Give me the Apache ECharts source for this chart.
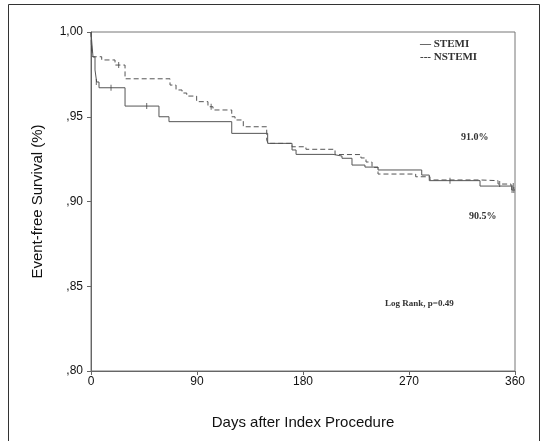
<!DOCTYPE html>
<html>
<head>
<meta charset="utf-8">
<script src="https://cdn.jsdelivr.net/npm/echarts@6/dist/echarts.min.js"></script>
<style>
  html, body { margin: 0; padding: 0; background: #fff; }
  #chart { width: 544px; height: 441px; }
</style>
</head>
<body>
<div id="chart"></div>
<script>
// Kaplan-Meier steps (day, survival %)
const stemiDays = [0, 0.85, 1.7, 3.4, 4.8, 6.8, 28.9, 57.7, 66.2, 119.5, 150.0, 170.7, 174.1, 205.5, 213.1, 221.6, 232.6, 243.7, 280.8, 287.2, 330.3, 357.2, 360];
const stemiSurv = [100, 99.23, 98.53, 97.76, 97.05, 96.71, 95.63, 95.00, 94.71, 94.02, 93.43, 93.04, 92.78, 92.68, 92.55, 92.15, 92.03, 91.86, 91.56, 91.23, 90.91, 90.68, 90.68];

const nstemiDays = [0, 0.4, 1.3, 9.1, 20.4, 28.9, 67.1, 72.2, 77.3, 81.3, 89.7, 99.3, 103.6, 119.5, 122.3, 129.3, 149.2, 150.3, 170.7, 182.5, 207.2, 229.2, 233.5, 238.6, 243.7, 275.7, 287.8, 330.3, 345.6, 356.6, 360];
const nstemiSurv = [100, 99.04, 98.54, 98.35, 98.05, 97.24, 96.87, 96.58, 96.40, 96.22, 95.89, 95.59, 95.40, 95.00, 94.81, 94.41, 93.63, 93.43, 93.23, 93.08, 92.77, 92.57, 92.33, 92.01, 91.62, 91.46, 91.27, 91.23, 91.03, 90.91, 90.91];

// censored observations (tick marks)
const stemiCensorDays = [4.5, 17, 47.3, 304.8, 357.5, 359];
const stemiCensorSurv = [97.05, 96.71, 95.63, 91.23, 90.68, 90.68];
const nstemiCensorDays = [0.5, 23.5, 102, 347, 358.5];
const nstemiCensorSurv = [99.04, 98.05, 95.59, 91.03, 90.91];

const xTicks = [0, 90, 180, 270, 360];
const yTicks = [80, 85, 90, 95, 100];
const yTickLabels = [',80', ',85', ',90', ',95', '1,00'];

const legendLabels = ['— STEMI', '--- NSTEMI'];
const endLabels = ['91.0%', '90.5%'];
const testLabel = 'Log Rank, p=0.49';

const sans = "'Liberation Sans', Arial, sans-serif";
const serif = "'Liberation Serif', 'Times New Roman', serif";
const ink = '#333';

const zip = (xs, ys) => xs.map((x, i) => [x, ys[i]]);

const chart = echarts.init(document.getElementById('chart'), null, {renderer: 'canvas'});

chart.setOption({
  animation: false,
  backgroundColor: '#fff',
  grid: {left: 91, right: 29, top: 32, bottom: 70, show: true, borderColor: '#777', borderWidth: 1},
  xAxis: {
    type: 'value',
    min: 0, max: 360, interval: 90,
    name: 'Days after Index Procedure',
    nameLocation: 'middle',
    nameGap: 44,
    nameTextStyle: {fontFamily: sans, fontSize: 15, color: '#111'},
    axisLine: {lineStyle: {color: '#666'}},
    axisTick: {show: true, length: 4, lineStyle: {color: '#666'}},
    splitLine: {show: false},
    axisLabel: {margin: 5, fontFamily: sans, fontSize: 12, color: '#111',
      formatter: v => xTicks.includes(v) ? String(v) : ''},
  },
  yAxis: {
    type: 'value',
    min: 80, max: 100, interval: 5,
    name: 'Event-free Survival (%)',
    nameLocation: 'middle',
    nameGap: 46,
    nameTextStyle: {fontFamily: sans, fontSize: 15, color: '#111'},
    axisLine: {show: true, lineStyle: {color: '#666'}},
    axisTick: {show: true, length: 4, lineStyle: {color: '#666'}},
    splitLine: {show: false},
    axisLabel: {margin: 8, fontFamily: sans, fontSize: 12, color: '#111',
      formatter: v => yTickLabels[yTicks.indexOf(v)] ?? ''},
  },
  series: [
    {
      name: 'STEMI',
      type: 'line',
      step: 'end',
      data: zip(stemiDays, stemiSurv),
      showSymbol: false,
      lineStyle: {color: '#555', width: 1},
      z: 3,
    },
    {
      name: 'NSTEMI',
      type: 'line',
      step: 'end',
      data: zip(nstemiDays, nstemiSurv),
      showSymbol: false,
      lineStyle: {color: '#555', width: 1, type: [5, 3]},
      z: 2,
    },
    {
      name: 'STEMI censored',
      type: 'scatter',
      data: zip(stemiCensorDays, stemiCensorSurv),
      symbol: 'rect',
      symbolSize: [1, 6],
      itemStyle: {color: '#444'},
      silent: true,
      z: 4,
    },
    {
      name: 'NSTEMI censored',
      type: 'scatter',
      data: zip(nstemiCensorDays, nstemiCensorSurv),
      symbol: 'rect',
      symbolSize: [1, 6],
      itemStyle: {color: '#444'},
      silent: true,
      z: 4,
    },
  ],
  graphic: [
    {type: 'rect', shape: {x: 8.5, y: 4.5, width: 531, height: 440}, style: {fill: 'none', stroke: '#333', lineWidth: 1}, silent: true},
    {type: 'text', left: 420, top: 39, style: {text: legendLabels[0], font: `bold 11px ${serif}`, fill: ink}},
    {type: 'text', left: 420, top: 52, style: {text: legendLabels[1], font: `bold 11px ${serif}`, fill: ink}},
    {type: 'text', left: 461, top: 132, style: {text: endLabels[0], font: `bold 10px ${serif}`, fill: ink}},
    {type: 'text', left: 469, top: 211, style: {text: endLabels[1], font: `bold 10px ${serif}`, fill: ink}},
    {type: 'text', left: 385, top: 299, style: {text: testLabel, font: `bold 9px ${serif}`, fill: ink}},
  ],
});
</script>
</body>
</html>
